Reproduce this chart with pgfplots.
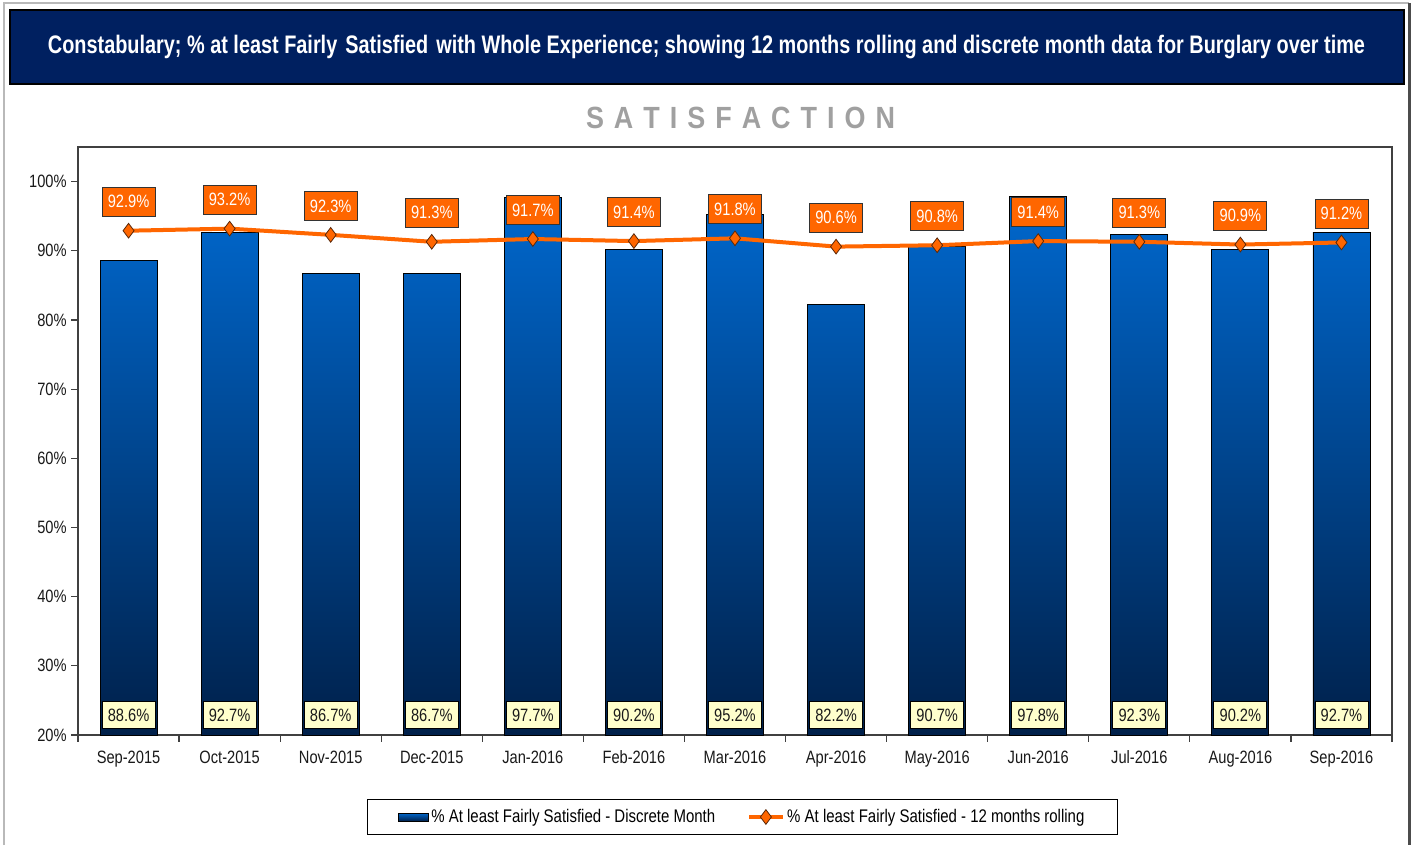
\documentclass[border=0pt]{standalone}
\usepackage{fontspec}
\setmainfont{Liberation Sans}[FakeStretch=0.82]
\usepackage{graphicx}
\usepackage{pgfplots}
\pgfplotsset{compat=1.18}
\usepackage{pgfplotstable}

\definecolor{navy}{RGB}{0,32,96}
\definecolor{barTop}{RGB}{0,104,206}
\definecolor{barBot}{RGB}{0,32,74}
\definecolor{legblue}{RGB}{0,70,150}
\definecolor{lineorange}{RGB}{255,102,0}
\definecolor{markedge}{RGB}{90,40,10}
\definecolor{labyellow}{RGB}{255,255,204}
\definecolor{axisgray}{RGB}{64,64,64}
\definecolor{satgray}{RGB}{160,160,160}

\pgfplotsset{
  barlegend/.style={legend image code/.code={\draw[black, fill=legblue, line width=0.6pt] (0pt,-3pt) rectangle (22.5pt,3pt);}},
  linelegend/.style={legend image code/.code={\draw[mark repeat=2,mark phase=2,##1] plot coordinates {(0pt,0pt) (12.5pt,0pt) (25pt,0pt)};}},
}

\pgfplotstableread{
x disc roll
0 88.6 92.9
1 92.7 93.2
2 86.7 92.3
3 86.7 91.3
4 97.7 91.7
5 90.2 91.4
6 95.2 91.8
7 82.2 90.6
8 90.7 90.8
9 97.8 91.4
10 92.3 91.3
11 90.2 90.9
12 92.7 91.2
}\datatable

\begin{document}
\begin{tikzpicture}[x=0.75pt,y=0.75pt]
\path[fill=white] (0,0) rectangle (1414,-845);
\draw[gray!55, line width=1.2pt] (4,-845) -- (4,-3) -- (1409,-3);
\draw[black!70, line width=2.25pt] (1409,-3) -- (1409,-845);
\draw[black, line width=0.8pt, fill=navy] (10,-10) rectangle (1404,-84);
\node[text=white, font=\bfseries\fontsize{19pt}{22pt}\selectfont, inner sep=0pt] at (706.5,-47)
  {\resizebox{987.75pt}{\height}{Constabulary; \% at least Fairly\hspace{2pt} Satisfied\hspace{2pt} with Whole Experience; showing 12 months rolling and discrete month data for Burglary over time}};
\node[text=satgray, font=\bfseries\fontsize{23pt}{26pt}\selectfont, inner sep=0pt] at (740.5,-118)
  {\resizebox{231.75pt}{\height}{S\hspace{7pt}A\hspace{7pt}T\hspace{7pt}I\hspace{7pt}S\hspace{7pt}F\hspace{7pt}A\hspace{7pt}C\hspace{7pt}T\hspace{7pt}I\hspace{7pt}O\hspace{7pt}N}};

\begin{axis}[
  at={(58.5pt,-551.25pt)}, anchor=south west,
  scale only axis, width=985.5pt, height=441pt,
  xmin=-0.5, xmax=12.5, ymin=20, ymax=105,
  /pgf/number format/assume math mode=true,
  axis line style={draw=axisgray, line width=1.1pt},
  tick style={draw=axisgray, line width=0.9pt},
  tick align=outside, tick pos=left,
  major tick length=5pt,
  ytick={20,30,...,100},
  yticklabels={20\%,30\%,40\%,50\%,60\%,70\%,80\%,90\%,100\%},
  xtick={-0.5,0.5,...,12.5},
  x tick label as interval,
  xticklabels={Sep-2015,Oct-2015,Nov-2015,Dec-2015,Jan-2016,Feb-2016,Mar-2016,Apr-2016,May-2016,Jun-2016,Jul-2016,Aug-2016,Sep-2016},
  tick label style={font=\fontsize{13.4pt}{15pt}\selectfont, text=black!90},
  xticklabel style={yshift=-3pt, anchor=north, text height=10pt, text depth=3pt},
  legend style={at={(0.5057,-0.1395)}, anchor=center, draw=black, line width=0.8pt,
    font=\fontsize{13.7pt}{15pt}\selectfont, inner xsep=23pt, inner ysep=5.5pt,
    /tikz/every even column/.append style={column sep=22pt}},
  legend columns=2,
  legend cell align=left,
]
\addplot[ybar, bar width=42.75pt, draw=black, line width=0.6pt, top color=barTop, bottom color=barBot, barlegend]
  table[x=x,y=disc]{\datatable};
\addlegendentry{\% At least Fairly Satisfied - Discrete Month}

\addplot[draw=none, mark=none, forget plot, point meta=explicit,
  visualization depends on={rawy \as \rawy},
  nodes near coords={\pgfmathprintnumber[fixed,fixed zerofill,precision=1]{\pgfplotspointmeta}\%},
  nodes near coords style={anchor=center, yshift={(22.9-\rawy)*5.1882pt}, fill=labyellow, draw=black,
    line width=0.6pt, text=black!90, minimum width=39.75pt, minimum height=20.25pt, inner sep=1pt,
    font=\fontsize{13.4pt}{15pt}\selectfont}]
  table[x=x,y=disc,meta=disc]{\datatable};

\addplot[color=lineorange, line width=3pt, mark=diamond*, mark size=5.5pt,
  mark options={fill=lineorange, draw=markedge, line width=0.6pt}, linelegend]
  table[x=x,y=roll]{\datatable};
\addlegendentry{\% At least Fairly Satisfied - 12 months rolling}

\addplot[draw=none, mark=none, forget plot, point meta=explicit,
  nodes near coords={\pgfmathprintnumber[fixed,fixed zerofill,precision=1]{\pgfplotspointmeta}\%},
  nodes near coords style={anchor=center, yshift=21.75pt, fill=lineorange, draw=black!80,
    line width=0.7pt, text=white, minimum width=39.75pt, minimum height=21.75pt, inner sep=1pt,
    font=\fontsize{13.4pt}{15pt}\selectfont}]
  table[x=x,y=roll,meta=roll]{\datatable};
\end{axis}
\end{tikzpicture}
\end{document}
